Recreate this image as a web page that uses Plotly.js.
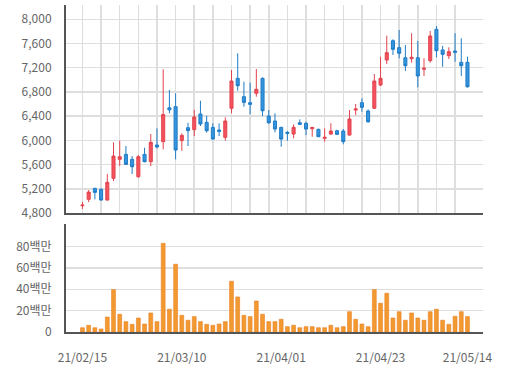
<!DOCTYPE html>
<html>
<head>
<meta charset="utf-8">
<script src="https://cdn.plot.ly/plotly-3.0.1.min.js"></script>
<style>
html,body{margin:0;padding:0;background:#fff;}
#chart{width:512px;height:378px;}
</style>
</head>
<body>
<div id="chart"></div>
<script>
const dates = ['21/02/15','21/02/16','21/02/17','21/02/18','21/02/19','21/02/22','21/02/23','21/02/24','21/02/25','21/02/26',
'21/03/02','21/03/03','21/03/04','21/03/05','21/03/08','21/03/09','21/03/10','21/03/11','21/03/12','21/03/15',
'21/03/16','21/03/17','21/03/18','21/03/19','21/03/22','21/03/23','21/03/24','21/03/25','21/03/26','21/03/29',
'21/03/30','21/03/31','21/04/01','21/04/02','21/04/05','21/04/06','21/04/07','21/04/08','21/04/09','21/04/12',
'21/04/13','21/04/14','21/04/15','21/04/16','21/04/19','21/04/20','21/04/21','21/04/22','21/04/23','21/04/26',
'21/04/27','21/04/28','21/04/29','21/04/30','21/05/03','21/05/04','21/05/06','21/05/07','21/05/10','21/05/11',
'21/05/12','21/05/13','21/05/14'];

const openP = [4920,5025,5206,5190,5013,5372,5686,5768,5686,5398,
5768,5647,5923,5978,6537,6556,5995,6209,6177,6435,
6297,6214,6170,6049,6529,7024,6721,6622,6777,7024,
6402,6319,6214,6132,6104,6291,6281,6192,6182,6033,
6104,6159,6154,6087,6501,6622,6484,6529,6914,7327,
7646,7531,7365,7349,7365,7174,7316,7834,7493,7398,
7476,7289,7289];
const highP = [4985,5178,5217,5206,5443,5967,5993,5906,5740,5757,
5878,6104,6198,7174,6831,6777,6115,6291,6504,6655,
6406,6281,6281,6380,7162,7438,6969,6952,7178,7041,
6501,6446,6225,6154,6264,6347,6308,6214,6192,6198,
6281,6176,6187,6501,6600,6694,6512,7096,7383,7729,
7669,7823,7575,7769,7641,7355,7807,7889,7559,7537,
7769,7685,7383];
const lowP = [4865,4980,5025,5010,5010,5327,5575,5592,5443,5382,
5636,5575,5867,5851,6446,5686,5828,5906,6071,6236,
6126,6015,6071,5995,6446,6820,6555,6430,6721,6402,
6270,6132,5894,5993,6033,6253,6087,6060,6055,5978,
6087,6087,5934,6080,6418,6473,6291,6520,6897,7261,
7410,7355,7145,7283,6876,7063,7283,7372,7216,7344,
7299,7063,6870];
const closeP = [4930,5145,5140,5013,5306,5740,5729,5603,5564,5729,
5647,5967,5890,6426,6504,5840,6082,6160,6386,6270,
6159,6021,6148,6319,6980,6902,6628,6595,6843,6489,
6291,6187,6021,6115,6214,6264,6187,6214,6060,6049,
6154,6099,5978,6353,6517,6545,6307,6980,7024,7448,
7504,7438,7233,7372,7063,7190,7724,7481,7421,7465,
7454,7233,6886];

// volume in 백만 (millions of shares)
const volume = [4,6.3,4,2.8,14,39.7,16.6,9.7,7.2,13.1,
7.5,17.8,9.7,83,21.3,63.4,15.6,11,14.4,9.7,
7.2,6.3,7.5,9.7,47.5,32.8,15.6,14.4,29,16.6,
9.7,9.7,11.9,5,6.3,4,5,5,4,4,
6.3,4,5,19,11.9,7.5,5,39.7,26.9,36.3,
13.1,19,11,17.8,13.1,11,19,21.3,11,7.2,
14.7,19,14.4];

const priceTicks = [4800,5200,5600,6000,6400,6800,7200,7600,8000];
const volTicks = [0,20,40,60,80];
const volTickText = ['0','20백만','40백만','60백만','80백만'];
const dateTicks = ['21/02/15','21/03/10','21/04/01','21/04/23','21/05/14'];

const font = {family:'"Noto Sans CJK KR", "Noto Sans", sans-serif', size:12, color:'#666'};

const traces = [
  {
    type:'candlestick', x:dates, open:openP, high:highP, low:lowP, close:closeP,
    xaxis:'x', yaxis:'y',
    increasing:{line:{color:'#e2434e', width:1}, fillcolor:'#f4535e'},
    decreasing:{line:{color:'#1f7cc6', width:1}, fillcolor:'#3594dc'},
    whiskerwidth:0, hoverinfo:'none'
  },
  {
    type:'bar', x:dates, y:volume, xaxis:'x2', yaxis:'y2', width:0.62,
    marker:{color:'#f29a30', line:{color:'#e97e24', width:0.6}}, hoverinfo:'none'
  }
];

const xr = [-2.65, 64.5];
const layout = {
  width:512, height:378,
  margin:{l:66, r:29, t:5, b:46},
  paper_bgcolor:'#fff', plot_bgcolor:'#fff',
  showlegend:false, font:font,
  xaxis:{
    type:'category', domain:[0,1], anchor:'y', range:xr,
    rangeslider:{visible:false},
    tickmode:'linear', tick0:0, dtick:3, showticklabels:false,
    showgrid:true, gridcolor:'#dedede', gridwidth:1.5,
    showline:true, linecolor:'#555', linewidth:2, ticks:'', zeroline:false
  },
  yaxis:{
    domain:[0.364,1], anchor:'x', range:[4800,8236],
    tickmode:'array', tickvals:priceTicks, tickformat:',d',
    showgrid:true, gridcolor:'#dedede', gridwidth:1.5,
    showline:true, linecolor:'#555', linewidth:2, ticks:'', zeroline:false,
    ticklabelstandoff:10, tickfont:font
  },
  xaxis2:{
    type:'category', domain:[0,1], anchor:'y2', range:xr,
    tickmode:'array', tickvals:dateTicks, ticktext:dateTicks,
    showgrid:false, showline:true, linecolor:'#555', linewidth:2, ticks:'',
    ticklabelstandoff:14, tickfont:font
  },
  yaxis2:{
    domain:[0,0.33], anchor:'x2', range:[0,101],
    tickmode:'array', tickvals:volTicks, ticktext:volTickText,
    showgrid:true, gridcolor:'#dedede', gridwidth:1.5,
    showline:true, linecolor:'#555', linewidth:2, ticks:'', zeroline:false,
    ticklabelstandoff:10, tickfont:font
  }
};

Plotly.newPlot('chart', traces, layout, {staticPlot:true, displayModeBar:false});
</script>
</body>
</html>
